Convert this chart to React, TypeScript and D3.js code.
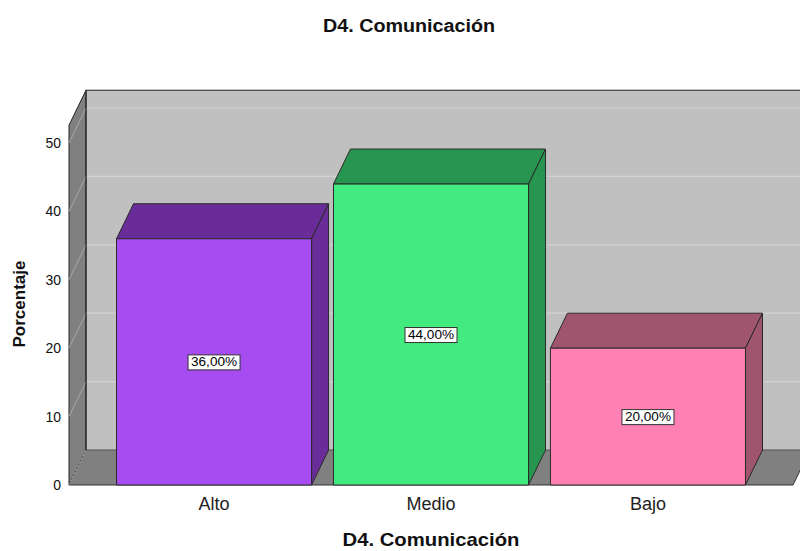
import React from "react";
import { scaleBand, scaleLinear } from "d3";

// data
const categories = ["Alto", "Medio", "Bajo"];
const percentages = [36, 44, 20];
const valueLabels = ["36,00%", "44,00%", "20,00%"];
const yTicks = [0, 10, 20, 30, 40, 50];

const frontColors = ["#a64cf0", "#42eb7f", "#ff80b2"];
const darkColors = ["#6a2c98", "#27944f", "#a0556e"];

const W = 800;
const H = 551;
const DX = 17;
const DY = -35;
const FONT = "'Liberation Sans', Arial, sans-serif";

function App() {
  const xScale = scaleBand<string>()
    .domain(categories)
    .range([69, 793])
    .paddingInner(0.101)
    .paddingOuter(0.219);

  const yScale = scaleLinear().domain([0, 52.6]).range([485, 485 - 52.6 * 6.84]);

  const x0 = 69;
  const x1 = 793;
  const y0 = yScale(0);
  const yTop = yScale(52.6);

  const pts = (p: number[][]) => p.map((d) => d.join(",")).join(" ");

  return (
    <svg width={W} height={H} style={{ display: "block", position: "absolute", left: 0, top: 0 }}>
      <rect width={W} height={H} fill="#ffffff" />

      {/* back wall */}
      <rect x={x0 + DX} y={yTop + DY} width={x1 - x0 + 20} height={y0 - yTop} fill="#c0c0c0" />
      {yTicks.slice(1).map((t) => (
        <line key={"g" + t} x1={x0 + DX} x2={W} y1={yScale(t) + DY} y2={yScale(t) + DY} stroke="#d2d2d2" strokeWidth={1.2} />
      ))}

      {/* left wall */}
      <polygon points={pts([[x0, y0], [x0, yTop], [x0 + DX, yTop + DY], [x0 + DX, y0 + DY]])} fill="#808080" stroke="#222" strokeWidth={1} />
      {yTicks.slice(1).map((t) => (
        <line key={"d" + t} x1={x0} y1={yScale(t)} x2={x0 + DX} y2={yScale(t) + DY} stroke="#a8a8a8" strokeWidth={1} />
      ))}

      {/* floor */}
      <polygon points={pts([[x0, y0], [x1, y0], [x1 + DX, y0 + DY], [x0 + DX, y0 + DY]])} fill="#808080" />
      <line x1={x0 + DX} x2={W} y1={y0 + DY} y2={y0 + DY} stroke="#555" strokeWidth={1} />
      <line x1={x0} y1={y0} x2={x0 + DX} y2={y0 + DY} stroke="#b0b0b0" strokeWidth={1} strokeDasharray="2,2" />
      <line x1={x0} x2={x1} y1={y0} y2={y0} stroke="#333" strokeWidth={1} />
      <line x1={x1} y1={y0} x2={x1 + DX} y2={y0 + DY} stroke="#333" strokeWidth={1} />
      <line x1={x0 + DX} x2={W} y1={yTop + DY} y2={yTop + DY} stroke="#222" strokeWidth={1} />
      <line x1={x0 + DX} x2={x0 + DX} y1={yTop + DY} y2={y0 + DY} stroke="#222" strokeWidth={1} />

      {/* bars */}
      {categories.map((c, i) => {
        const bx = xScale(c) as number;
        const bw = xScale.bandwidth();
        const by = yScale(percentages[i]);
        return (
          <g key={c} stroke="#2a2a2a" strokeWidth={1} strokeLinejoin="round">
            <polygon points={pts([[bx, by], [bx + DX, by + DY], [bx + bw + DX, by + DY], [bx + bw, by]])} fill={darkColors[i]} />
            <polygon points={pts([[bx + bw, by], [bx + bw + DX, by + DY], [bx + bw + DX, y0 + DY], [bx + bw, y0]])} fill={darkColors[i]} />
            <rect x={bx} y={by} width={bw} height={y0 - by} fill={frontColors[i]} />
          </g>
        );
      })}

      {/* value labels */}
      {categories.map((c, i) => {
        const cx = (xScale(c) as number) + xScale.bandwidth() / 2;
        const cy = (yScale(percentages[i]) + y0) / 2;
        return (
          <g key={"v" + c}>
            <rect x={cx - 26} y={cy - 7} width={52} height={15} fill="#ffffff" stroke="#333" strokeWidth={1} />
            <text x={cx} y={cy + 4.5} textAnchor="middle" fontFamily={FONT} fontSize={13} textLength={46} lengthAdjust="spacingAndGlyphs" fill="#000">
              {valueLabels[i]}
            </text>
          </g>
        );
      })}

      {/* y ticks */}
      {yTicks.map((t) => (
        <text key={"t" + t} x={61} y={yScale(t) + 5} textAnchor="end" fontFamily={FONT} fontSize={14} fill="#111">
          {t}
        </text>
      ))}

      {/* x labels */}
      {categories.map((c) => (
        <text key={"x" + c} x={(xScale(c) as number) + xScale.bandwidth() / 2} y={510} textAnchor="middle" fontFamily={FONT} fontSize={18} fill="#222">
          {c}
        </text>
      ))}

      {/* titles */}
      <text x={409} y={32} textAnchor="middle" fontFamily={FONT} fontSize={18} fontWeight="bold" fill="#111" textLength={172} lengthAdjust="spacingAndGlyphs">
        D4. Comunicación
      </text>
      <text x={431} y={546} textAnchor="middle" fontFamily={FONT} fontSize={18.5} fontWeight="bold" fill="#111" textLength={177} lengthAdjust="spacingAndGlyphs">
        D4. Comunicación
      </text>
      <text transform="translate(25,304) rotate(-90)" textAnchor="middle" fontFamily={FONT} fontSize={17} fontWeight="bold" fill="#111">
        Porcentaje
      </text>
    </svg>
  );
}

export default App;
